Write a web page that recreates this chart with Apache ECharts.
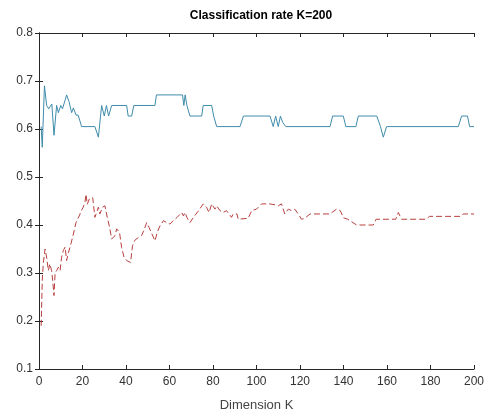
<!DOCTYPE html>
<html>
<head>
<meta charset="utf-8">
<script src="https://cdn.jsdelivr.net/npm/echarts@6/dist/echarts.min.js"></script>
<style>
  html, body { margin: 0; padding: 0; background: #fff; }
  #chart { width: 486px; height: 412px; }
</style>
</head>
<body>
<div id="chart"></div>
<script>
// dimension K at each break point
var blueK = [1, 1.5, 2.5, 3.5, 4.5, 5.9, 6.9, 8.1, 8.9, 10, 10.8, 12, 12.7, 13.8, 15, 15.8, 17, 18, 19.6,
  25.7, 27.3, 28.8, 30, 31, 32, 33.4, 40.3, 41, 42.6, 43.6, 53.3, 54, 66, 66.6, 67.2, 68, 69.4,
  74.8, 75.5, 79.4, 80.3, 81, 81.7, 92.4, 94, 106.2, 107.7, 108.8, 110, 111, 112, 113.5,
  133.8, 135, 139.9, 141.1, 145.7, 146.8, 155.3, 157, 158.3, 159.8, 192.8, 194.3, 197, 198, 200];
var blueRate = [0.605, 0.562, 0.69, 0.649, 0.642, 0.652, 0.587, 0.649, 0.634, 0.649, 0.642, 0.66, 0.671, 0.657, 0.634, 0.644, 0.629, 0.629, 0.605,
  0.605, 0.583, 0.649, 0.627, 0.649, 0.627, 0.649, 0.649, 0.627, 0.627, 0.649, 0.649, 0.671, 0.671, 0.649, 0.671, 0.649, 0.627,
  0.627, 0.649, 0.649, 0.627, 0.627, 0.605, 0.605, 0.627, 0.627, 0.605, 0.627, 0.605, 0.627, 0.614, 0.605,
  0.605, 0.627, 0.627, 0.605, 0.605, 0.627, 0.627, 0.605, 0.583, 0.605, 0.605, 0.627, 0.627, 0.605, 0.605];

var redK = [1, 1.5, 2, 2.8, 3.6, 4.3, 5, 5.8, 6.3, 6.9, 7.4, 8.1, 8.9, 9.7, 10.4, 11.2, 12, 12.7, 13.5, 14.3,
  15.8, 17, 18.5, 19.5, 20.3, 21.1, 21.6, 22.2, 23.1, 24.7, 25.7, 26.5, 27.3, 28, 29.2, 30.3, 31.4, 32.6, 33.4,
  35, 35.7, 37, 38, 39.1, 40.3, 41.2, 42.1, 43, 44, 45.7, 47.2, 48.5, 49.5, 50.6, 51.5, 53.3, 54.4, 55.6,
  57.2, 58.7, 60.2, 61.7, 63.5, 65.6, 66.4, 67.1, 68, 69.4, 71, 73.4, 75.5, 77, 78.2, 79.4, 80.9, 81.7,
  83.2, 84.7, 86.2, 88.5, 89.3, 91, 91.6, 96.2, 97.8, 100, 102.4, 106.2, 108.5, 110, 111.5, 113, 114.6,
  116.1, 117.6, 119.2, 120.7, 122.2, 124.6, 133.8, 136.8, 138.5, 140, 142, 146, 153.7, 155, 164, 165.2,
  166.7, 178, 179.5, 194, 195, 200];
var redRate = [0.19, 0.285, 0.322, 0.35, 0.33, 0.305, 0.319, 0.305, 0.284, 0.253, 0.3, 0.305, 0.312, 0.305, 0.333, 0.347, 0.354, 0.326, 0.342, 0.354,
  0.381, 0.405, 0.419, 0.43, 0.437, 0.447, 0.464, 0.443, 0.454, 0.457, 0.416, 0.426, 0.437, 0.423, 0.437, 0.44, 0.416, 0.392, 0.371,
  0.378, 0.392, 0.385, 0.353, 0.333, 0.326, 0.33, 0.322, 0.357, 0.368, 0.374, 0.378, 0.392, 0.405, 0.395, 0.392, 0.367, 0.385, 0.398,
  0.409, 0.405, 0.402, 0.409, 0.416, 0.426, 0.419, 0.426, 0.416, 0.405, 0.416, 0.43, 0.444, 0.437, 0.426, 0.444, 0.433, 0.44,
  0.43, 0.426, 0.43, 0.416, 0.423, 0.423, 0.412, 0.414, 0.43, 0.433, 0.444, 0.444, 0.442, 0.44, 0.444, 0.423, 0.433,
  0.43, 0.433, 0.423, 0.412, 0.414, 0.423, 0.423, 0.433, 0.43, 0.415, 0.412, 0.4, 0.4, 0.412, 0.412, 0.426,
  0.412, 0.412, 0.418, 0.418, 0.423, 0.423];

var xTicks = [0, 20, 40, 60, 80, 100, 120, 140, 160, 180, 200];
var yTicks = ['0.1', '0.2', '0.3', '0.4', '0.5', '0.6', '0.7', '0.8'];

function pairs(xs, ys) {
  return xs.map(function (x, i) { return [x, ys[i]]; });
}

var axisCol = '#262626';
var font = 'Liberation Sans, Arial, sans-serif';

var myecharts = echarts.init(document.getElementById('chart'));
var option = {
  animation: false,
  backgroundColor: '#fff',
  title: {
    text: 'Classification rate K=200',
    left: 256,
    top: 5,
    textAlign: 'center',
    textStyle: { fontFamily: font, fontSize: 12, fontWeight: 'bold', color: '#000' }
  },
  grid: { left: 39, right: 12, top: 33, bottom: 43, outerBoundsMode: 'none' },
  xAxis: [
    {
      type: 'value', position: 'bottom',
      min: xTicks[0], max: xTicks[xTicks.length - 1], interval: 20,
      name: 'Dimension K', nameLocation: 'middle', nameGap: 30,
      nameTextStyle: { fontFamily: font, fontSize: 13, color: '#444' },
      axisLine: { lineStyle: { color: axisCol, width: 1 } },
      axisTick: { inside: true, length: 4, lineStyle: { color: axisCol } },
      axisLabel: { fontFamily: font, fontSize: 12, color: '#333', margin: 7 },
      splitLine: { show: false }
    },
    {
      type: 'value', position: 'top',
      min: xTicks[0], max: xTicks[xTicks.length - 1], interval: 20,
      axisLine: { lineStyle: { color: axisCol, width: 1 } },
      axisTick: { inside: true, length: 4, lineStyle: { color: axisCol } },
      axisLabel: { show: false },
      splitLine: { show: false }
    }
  ],
  yAxis: [
    {
      type: 'value', position: 'left',
      min: 0.1, max: 0.8, interval: 0.1,
      axisLine: { show: true, lineStyle: { color: axisCol, width: 1 } },
      axisTick: { show: true, inside: true, length: 4, lineStyle: { color: axisCol } },
      axisLabel: {
        fontFamily: font, fontSize: 12, color: '#333', margin: 6,
        formatter: function (v) { return v.toFixed(1); }
      },
      splitLine: { show: false }
    },
    {
      type: 'value', position: 'right',
      min: 0.1, max: 0.8, interval: 0.1,
      axisLine: { show: true, lineStyle: { color: axisCol, width: 1 } },
      axisTick: { show: true, inside: true, length: 4, lineStyle: { color: axisCol } },
      axisLabel: { show: false },
      splitLine: { show: false }
    }
  ],
  series: [
    {
      name: 'blue',
      type: 'line',
      data: pairs(blueK, blueRate),
      showSymbol: false,
      lineStyle: { color: '#3f8cab', width: 1 }
    },
    {
      name: 'red',
      type: 'line',
      data: pairs(redK, redRate),
      showSymbol: false,
      lineStyle: { color: '#b8403f', width: 1, type: [6, 3] }
    }
  ]
};

myecharts.setOption(option);
</script>
</body>
</html>
